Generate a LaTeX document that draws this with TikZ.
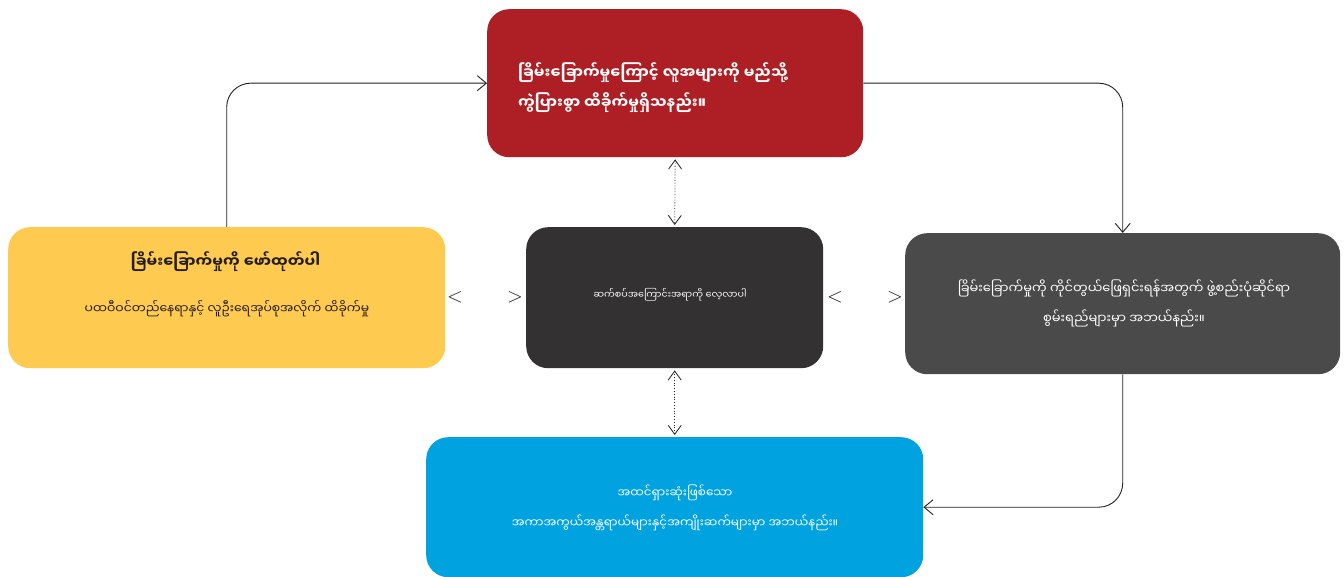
\documentclass[tikz,border=0pt]{standalone}
\usepackage{fontspec}
\newfontfamily\mya[Script=Myanmar]{Noto Sans Myanmar UI}
\usetikzlibrary{arrows.meta}
\definecolor{cred}{HTML}{AD1F24}
\definecolor{cyellow}{HTML}{FFCA50}
\definecolor{cdark}{HTML}{333132}
\definecolor{cgray}{HTML}{4A4A4A}
\definecolor{cblue}{HTML}{00A3E0}
\definecolor{ctext}{HTML}{231F20}
\begin{document}
\begin{tikzpicture}[x=1pt,y=-1pt,
  box/.style={rounded corners=22pt, anchor=north west, inner sep=0pt, draw=none},
  txt/.style={inner sep=0pt, font=\mya, text=white, align=center},
  conn/.style={draw=ctext, line width=0.9pt, rounded corners=24pt, -{Straight Barb[length=9pt,width=15pt,line width=0.9pt]}},
  dots/.style={draw=ctext, line width=0.8pt, dotted, {Straight Barb[length=9pt,width=13pt,line width=0.8pt,sep=2pt]}-{Straight Barb[length=9pt,width=13pt,line width=0.8pt,sep=2pt]}},
  chev/.style={inner sep=0pt, font=\fontsize{22}{22}\selectfont, text=ctext}
]
\useasboundingbox[fill=white] (0,0) rectangle (1344,577);
% boxes
\node[box, fill=cred, minimum width=376pt, minimum height=148pt] (red) at (487,9) {};
\node[box, fill=cyellow, minimum width=437pt, minimum height=141pt] (yellow) at (8,227) {};
\node[box, fill=cdark, minimum width=297pt, minimum height=141pt] (center) at (526,227) {};
\node[box, fill=cgray, minimum width=435pt, minimum height=141pt] (gray) at (905,233) {};
\node[box, fill=cblue, minimum width=497pt, minimum height=140pt] (blue) at (426,437) {};
% texts
\node[txt, anchor=west, align=left, font=\mya\bfseries\fontsize{15}{30}\selectfont] (redtext) at (518,88)
  {ခြိမ်းခြောက်မှုကြောင့် လူအများကို မည်သို့\\ကွဲပြားစွာ ထိခိုက်မှုရှိသနည်း။};
\node[txt, text=ctext, font=\mya\bfseries\fontsize{15}{18}\selectfont] (ytitle) at (225.5,262)
  {ခြိမ်းခြောက်မှုကို ဖော်ထုတ်ပါ};
\node[txt, text=ctext, font=\mya\fontsize{12.4}{14}\selectfont] (ysub) at (227,309)
  {ပထဝီဝင်တည်နေရာနှင့် လူဦးရေအုပ်စုအလိုက် ထိခိုက်မှု};
\node[txt, font=\mya\fontsize{9.6}{12}\selectfont] (ctext) at (670,295)
  {ဆက်စပ်အကြောင်းအရာကို လေ့လာပါ};
\node[txt, font=\mya\fontsize{13}{30}\selectfont] (gtext) at (1124,303)
  {ခြိမ်းခြောက်မှုကို ကိုင်တွယ်ဖြေရှင်းရန်အတွက် ဖွဲ့စည်းပုံဆိုင်ရာ\\စွမ်းရည်များမှာ အဘယ်နည်း။};
\node[txt, font=\mya\fontsize{12}{29.5}\selectfont] (btext) at (675,508)
  {အထင်ရှားဆုံးဖြစ်သော\\အကာအကွယ်အန္တရာယ်များနှင့်အကျိုးဆက်များမှာ အဘယ်နည်း။};
% chevrons
\node[chev] (c1) at (455,297) {$<$};
\node[chev] (c2) at (515,297) {$>$};
\node[chev] (c3) at (835,297) {$<$};
\node[chev] (c4) at (895,297) {$>$};
% connectors
\draw[conn] (yellow.north) |- (red.west);
\draw[conn] (red.east) -| (gray.north);
\draw[conn] (gray.south) |- (blue.east);
\draw[dots] (red.south) -- (center.north);
\draw[dots] (center.south) -- (blue.north);
\end{tikzpicture}
\end{document}
